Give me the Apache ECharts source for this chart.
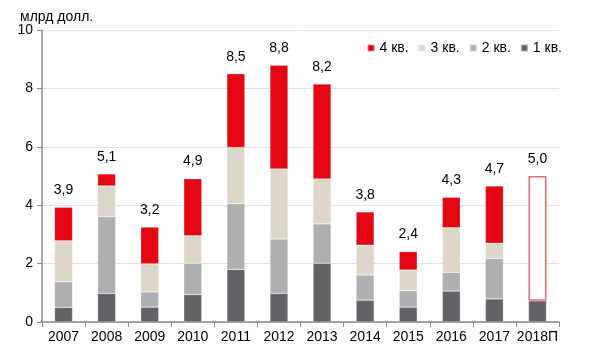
<!DOCTYPE html>
<html><head><meta charset="utf-8">
<script src="https://cdn.jsdelivr.net/npm/echarts@6/dist/echarts.min.js"></script>
<style>html,body{margin:0;padding:0;background:#fff}#c{width:600px;height:355px}</style>
</head><body><div id="c"></div>
<script>
const categories = ["2007","2008","2009","2010","2011","2012","2013","2014","2015","2016","2017","2018П"];
const q1 = [0.50,0.98,0.51,0.94,1.80,0.98,2.01,0.75,0.51,1.06,0.79,0.73];
const q2 = [0.88,2.63,0.52,1.07,2.25,1.86,1.35,0.86,0.56,0.64,1.39,0];
const q3 = [1.40,1.05,0.96,0.94,1.93,2.40,1.54,1.02,0.71,1.53,0.52,0];
const q4 = [1.15,0.41,1.26,1.96,2.52,3.55,3.25,1.14,0.63,1.04,1.96,4.27];
const totals = [3.9,5.1,3.2,4.9,8.5,8.8,8.2,3.8,2.4,4.3,4.7,5.0];
const seriesNames = ["1 кв.","2 кв.","3 кв.","4 кв."];
const yTicks = {min:0, max:10, interval:2};

const font = "Liberation Sans, Arial, sans-serif";
const colors = ["#626366","#aeafb1","#ddd7ca","#e30613"];
const forecastIndex = categories.length - 1;

const chart = echarts.init(document.getElementById('c'), null, {renderer:'canvas'});
const mk = (name, data, color, withLabel) => ({
  name, type:'bar', stack:'t', barWidth:18, data: data.map((v,i)=>{
    if (withLabel && i === forecastIndex) {
      return {value:v, itemStyle:{color:'#ffffff', borderColor:'#ef6a72', borderWidth:1.5}};
    }
    return v;
  }),
  itemStyle:{color, borderColor:'rgba(255,255,255,0.5)', borderWidth:0.5},
  label: withLabel ? {show:true, position:'top', distance:10, color:'#000', fontSize:14, fontFamily:font,
    formatter: p => totals[p.dataIndex].toFixed(1).replace('.', ',')} : {show:false},
  emphasis:{disabled:true}
});
chart.setOption({
  animation:false,
  textStyle:{fontFamily:font},
  title:{text:'млрд долл.', left:15, top:5, textStyle:{fontSize:14, fontWeight:'normal', color:'#000', fontFamily:font}},
  legend:{data:["4 кв.","3 кв.","2 кв.","1 кв."], right:33, top:36, itemWidth:7, itemHeight:7, itemGap:9,
    icon:'rect', textStyle:{fontSize:14, color:'#000', fontFamily:font}},
  grid:{left:42, right:41, top:30, bottom:33},
  xAxis:{type:'category', data:categories,
    axisLine:{lineStyle:{color:'#888', width:1.5}},
    axisTick:{show:true, length:5, lineStyle:{color:'#888'}},
    axisLabel:{color:'#000', fontSize:14, fontFamily:font, margin:8, interval:0}},
  yAxis:{type:'value', min:yTicks.min, max:yTicks.max, interval:yTicks.interval,
    axisLine:{show:true, lineStyle:{color:'#888', width:1.5}},
    axisTick:{show:true, length:5, lineStyle:{color:'#888'}},
    splitLine:{lineStyle:{color:'#e3e3e3'}},
    axisLabel:{color:'#000', fontSize:14, fontFamily:font, margin:9}},
  series:[mk(seriesNames[0],q1,colors[0],false), mk(seriesNames[1],q2,colors[1],false),
          mk(seriesNames[2],q3,colors[2],false), mk(seriesNames[3],q4,colors[3],true)]
});
</script></body></html>
